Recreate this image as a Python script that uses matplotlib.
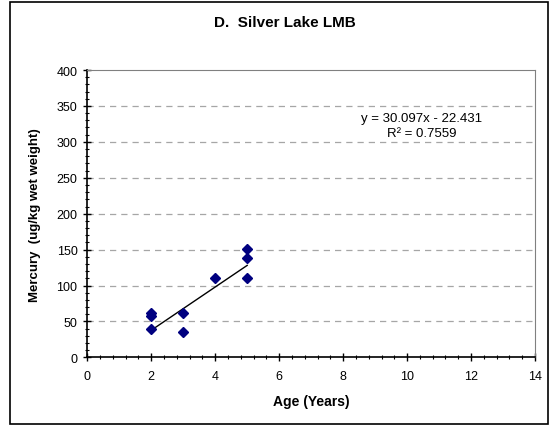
import numpy as np
import matplotlib
matplotlib.use("Agg")
import matplotlib.pyplot as plt
from matplotlib.ticker import MultipleLocator
from matplotlib.patches import Rectangle

plt.rcParams['font.family'] = ['Liberation Sans', 'DejaVu Sans']

# fish age (years) and mercury concentration (ug/kg wet weight)
age = [2, 2, 2, 3, 3, 4, 5, 5, 5]
mercury = [62, 57, 39, 62, 35, 110, 151, 139, 110]

# linear trendline reported for the data
slope = 30.097
intercept = -22.431
r_squared = 0.7559


fig = plt.figure(figsize=(5.51, 4.27), dpi=100)
ax = fig.add_axes([0.1584, 0.1607, 0.971 - 0.1584, 0.8337 - 0.1607])

# outer chart border
fig.patches.append(Rectangle((0.018, 0.004), 0.976, 0.989, transform=fig.transFigure,
                             fill=False, edgecolor='black', linewidth=1.2))

ax.set_xlim(0, 14)
ax.set_ylim(0, 400)
ax.xaxis.set_major_locator(MultipleLocator(2))
ax.xaxis.set_minor_locator(MultipleLocator(0.4))
ax.yaxis.set_major_locator(MultipleLocator(50))
ax.yaxis.set_minor_locator(MultipleLocator(10))

for y in range(50, 400, 50):
	ax.axhline(y, color='#a6a6a6', linewidth=0.9, linestyle=(0, (5, 4)), zorder=0)

ax.spines['top'].set_color('#808080')
ax.spines['right'].set_color('#808080')
ax.spines['left'].set_linewidth(1.2)
ax.spines['bottom'].set_linewidth(1.2)

ax.tick_params(which='major', direction='inout', length=6, width=1, labelsize=9)
ax.tick_params(axis='x', which='major', pad=6)
ax.tick_params(axis='y', which='major', pad=4)
ax.tick_params(which='minor', direction='inout', length=3, width=0.8)
ax.tick_params(top=False, right=False, which='both')

xfit = np.array([min(age), max(age)])
ax.plot(xfit, slope * xfit + intercept, color='black', linewidth=1, zorder=2)
ax.plot(age, mercury, linestyle='none', marker='D', markersize=5,
	color='#000080', zorder=3)

ax.text(10.46, 323, f"y = {slope}x - {abs(intercept)}\nR\u00b2 = {r_squared}",
	ha='center', va='center', fontsize=9.5, linespacing=1.4)

ax.set_xlabel('Age (Years)', fontsize=10, fontweight='bold', labelpad=9)
ax.set_ylabel('Mercury  (ug/kg wet weight)', fontsize=9.5, fontweight='bold', labelpad=11)
fig.text(0.517, 0.945, 'D.  Silver Lake LMB', ha='center', va='center',
	fontsize=11, fontweight='bold')

fig.savefig('out.png', dpi=100)
